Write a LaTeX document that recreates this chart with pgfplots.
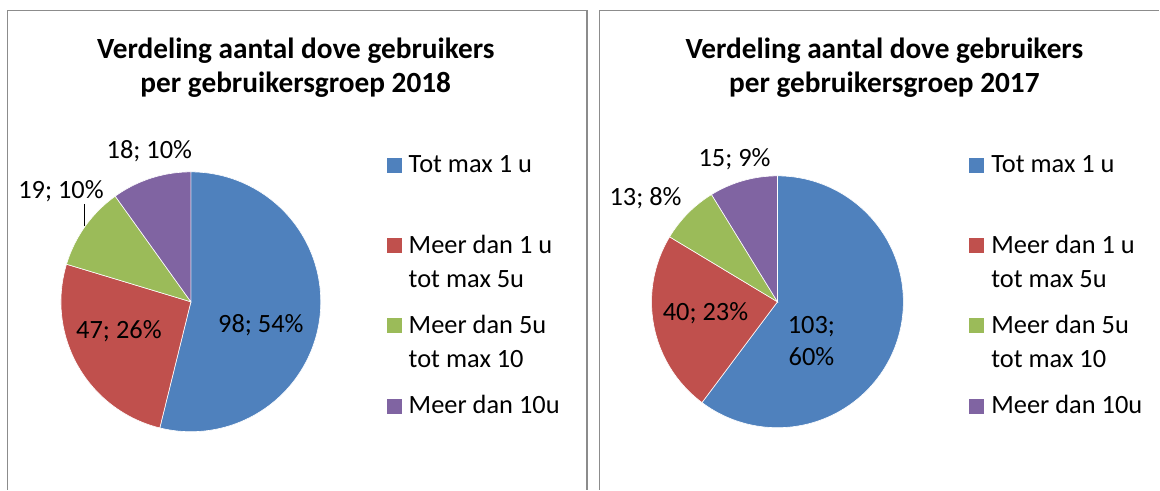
\documentclass[border=0pt]{standalone}
\usepackage{pgfplots}
\pgfplotsset{compat=1.18}
\usepackage{fontspec}
\setmainfont{Carlito}
\definecolor{cblue}{HTML}{4F81BD}
\definecolor{cred}{HTML}{C0504D}
\definecolor{cgreen}{HTML}{9BBB59}
\definecolor{cpurple}{HTML}{8064A2}
\definecolor{frame}{HTML}{8C8C8C}
% data 2018
\def\Aa{98}\def\Ab{47}\def\Ac{19}\def\Ad{18}
% data 2017
\def\Ba{103}\def\Bb{40}\def\Bc{13}\def\Bd{15}
\pgfmathsetmacro\AT{\Aa+\Ab+\Ac+\Ad}
\pgfmathsetmacro\Aone{90-\Aa/\AT*360}
\pgfmathsetmacro\Atwo{\Aone-\Ab/\AT*360}
\pgfmathsetmacro\Athree{\Atwo-\Ac/\AT*360}
\pgfmathsetmacro\BT{\Ba+\Bb+\Bc+\Bd}
\pgfmathsetmacro\Bone{90-\Ba/\BT*360}
\pgfmathsetmacro\Btwo{\Bone-\Bb/\BT*360}
\pgfmathsetmacro\Bthree{\Btwo-\Bc/\BT*360}
\newcommand\slice[6]{%
  \addplot[fill=#6, draw=white, line width=0.6pt, domain=#1:#2, samples=120, variable=\t]
    ({#3+#5*cos(\t)},{#4+#5*sin(\t)}) -- (axis cs:#3,#4) -- cycle;}
\newcommand\LE[1]{\parbox[t]{160pt}{\raggedright\strut #1}}
\newcommand\lfont{\fontsize{26.4}{34}\selectfont}
\newcommand\tfont{\fontsize{29.3}{35}\selectfont\bfseries}
\pgfplotsset{
  piestyle/.style={
    hide axis, scale only axis, clip=false,
    height=490pt, ymin=0, ymax=490,
    legend image code/.code={\fill[##1, draw=none] (0pt,0pt) rectangle (15pt,15pt);},
    legend style={draw=none, fill=none, inner sep=0pt, outer sep=0pt,
      row sep=0pt, column sep=0pt, anchor=north west,
      font=\lfont, cells={anchor=base west},
      nodes={inner sep=0pt, outer sep=0pt, text height=23.8pt, text depth=56.5pt},
      /tikz/every odd column/.append style={column sep=7pt}},
  }
}
\begin{document}
\begin{tikzpicture}
% ---------------- 2018 ----------------
\begin{axis}[piestyle, at={(0pt,0pt)}, anchor=south west,
  width=593pt, xmin=0, xmax=593,
  legend style={at={(axis cs:387,340.8)}}]
\slice{\Aone}{90}{191}{188}{130}{cblue}
\addlegendentry{\LE{Tot max 1 u}}
\slice{\Atwo}{\Aone}{191}{188}{130}{cred}
\addlegendentry{\LE{Meer dan 1 u\newline tot max 5u}}
\slice{\Athree}{\Atwo}{191}{188}{130}{cgreen}
\addlegendentry{\LE{Meer dan 5u\newline tot max 10}}
\slice{-270}{\Athree}{191}{188}{130}{cpurple}
\addlegendentry{\LE{Meer dan 10u}}
\draw[frame, line width=1.6pt] (axis cs:7.5,0) -- (axis cs:7.5,479.5) -- (axis cs:587.5,479.5) -- (axis cs:587.5,0);
\node[font=\tfont, anchor=base] at (axis cs:296,431.7) {Verdeling aantal dove gebruikers};
\node[font=\tfont, anchor=base] at (axis cs:296,397) {per gebruikersgroep 2018};
\node[font=\lfont, anchor=base] at (axis cs:261,157.6) {98; 54\%};
\node[font=\lfont, anchor=base] at (axis cs:119,151.6) {47; 26\%};
\node[font=\lfont, anchor=base] at (axis cs:61,291.6) {19; 10\%};
\node[font=\lfont, anchor=base] at (axis cs:149.5,331.6) {18; 10\%};
\draw[black, line width=1pt] (axis cs:85,286) -- (axis cs:85,264);
\end{axis}
% ---------------- 2017 ----------------
\begin{axis}[piestyle, at={(593pt,0pt)}, anchor=south west,
  width=567pt, xmin=593, xmax=1160,
  legend style={at={(axis cs:970,340.8)}}]
\slice{\Bone}{90}{778}{188}{126}{cblue}
\addlegendentry{\LE{Tot max 1 u}}
\slice{\Btwo}{\Bone}{778}{188}{126}{cred}
\addlegendentry{\LE{Meer dan 1 u\newline tot max 5u}}
\slice{\Bthree}{\Btwo}{778}{188}{126}{cgreen}
\addlegendentry{\LE{Meer dan 5u\newline tot max 10}}
\slice{-270}{\Bthree}{778}{188}{126}{cpurple}
\addlegendentry{\LE{Meer dan 10u}}
\draw[frame, line width=1.6pt] (axis cs:600,0) -- (axis cs:600,479.5) -- (axis cs:1160,479.5);
\node[font=\tfont, anchor=base] at (axis cs:885,431.7) {Verdeling aantal dove gebruikers};
\node[font=\tfont, anchor=base] at (axis cs:885,397) {per gebruikersgroep 2017};
\node[font=\lfont, anchor=base] at (axis cs:812,156.6) {103;};
\node[font=\lfont, anchor=base] at (axis cs:812,124.6) {60\%};
\node[font=\lfont, anchor=base] at (axis cs:706,169.6) {40; 23\%};
\node[font=\lfont, anchor=base] at (axis cs:646,284.6) {13; 8\%};
\node[font=\lfont, anchor=base] at (axis cs:735,323.6) {15; 9\%};
\end{axis}
\path (0pt,0pt) rectangle (1160pt,490pt);
\end{tikzpicture}
\end{document}
